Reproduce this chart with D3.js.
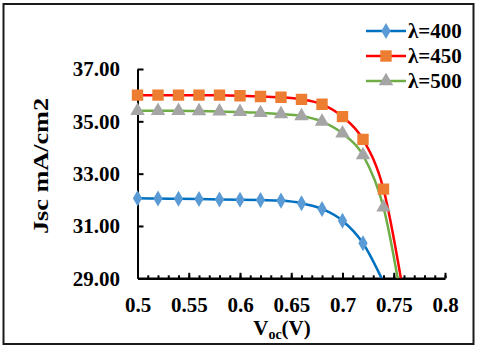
<!DOCTYPE html>
<html>
<head>
<meta charset="utf-8">
<script src="https://cdn.jsdelivr.net/npm/d3@7"></script>
<style>
  body { margin: 0; background: #fff; }
</style>
</head>
<body>
<div id="chart"></div>
<script>
const WIDTH = 480;
const HEIGHT = 350;
const FONT = '"Liberation Serif"';

// voltages of the measured points (the last one of each series falls below the axis)
const voc = [0.5, 0.52, 0.54, 0.56, 0.58, 0.6, 0.62, 0.64, 0.66, 0.68, 0.7, 0.72, 0.74, 0.76];
const series = ["λ=400", "λ=450", "λ=500"];
const jsc400 = [32.06, 32.05, 32.04, 32.03, 32.01, 32.0, 31.99, 31.97, 31.87, 31.65, 31.2, 30.34, 28.85];
const jsc450 = [36.0, 36.0, 36.0, 36.0, 36.0, 35.98, 35.95, 35.92, 35.84, 35.65, 35.18, 34.31, 32.41, 28.3];
const jsc500 = [35.4, 35.4, 35.4, 35.39, 35.38, 35.36, 35.32, 35.28, 35.2, 34.99, 34.54, 33.71, 31.71, 27.6];
const xTicks = [0.5, 0.55, 0.6, 0.65, 0.7, 0.75, 0.8];
const yTicks = [29, 31, 33, 35, 37];

const lineColors = ["#0070c0", "#ff0000", "#70ad47"];
const markerColors = ["#5b9bd5", "#ed7d31", "#a5a5a5"];
const markerShapes = [d3.symbolDiamond, d3.symbolSquare, d3.symbolTriangle];
const markerSizes = [75, 130, 90];

const PLOT = {left: 137.5, right: 445, top: 69, bottom: 278.3};

const svg = d3.select('#chart')
  .append('svg')
  .attr('width', WIDTH)
  .attr('height', HEIGHT);

// outer frame
svg.append('rect')
  .attr('x', 3.5).attr('y', 4)
  .attr('width', 470).attr('height', 340)
  .attr('fill', 'none')
  .attr('stroke', '#1a1a1a')
  .attr('stroke-width', 2);

const x = d3.scaleLinear().domain([0.5, 0.8]).range([PLOT.left, PLOT.right]);
const y = d3.scaleLinear().domain([29, 37]).range([PLOT.bottom, PLOT.top]);

// minor x ticks (inside)
svg.append('g')
  .attr('transform', `translate(0,${PLOT.bottom})`)
  .call(d3.axisBottom(x).ticks(30).tickSize(-3).tickSizeOuter(0).tickFormat(''))
  .call(g => g.select('.domain').remove())
  .call(g => g.selectAll('line').attr('stroke', '#000').attr('stroke-width', 2));

// major x axis
const xAxis = svg.append('g')
  .attr('transform', `translate(0,${PLOT.bottom})`)
  .call(d3.axisBottom(x).tickValues(xTicks).tickSize(-5.5).tickSizeOuter(0)
    .tickPadding(18.5).tickFormat(d => String(d)));
xAxis.attr('font-family', FONT).attr('font-size', 21).attr('font-weight', 'bold');
xAxis.select('.domain').attr('stroke', '#000').attr('stroke-width', 2.5);
xAxis.selectAll('line').attr('stroke', '#000').attr('stroke-width', 2);
xAxis.selectAll('text')
  .style('font-family', FONT).style('font-weight', 'bold').style('font-size', '21px')
  .attr('fill', '#000');

// y axis
const yAxis = svg.append('g')
  .attr('transform', `translate(${PLOT.left},0)`)
  .call(d3.axisLeft(y).tickValues(yTicks).tickSize(-6).tickSizeOuter(0)
    .tickPadding(17.5).tickFormat(d3.format('.2f')));
yAxis.attr('font-family', FONT).attr('font-size', 21).attr('font-weight', 'bold');
yAxis.select('.domain').attr('stroke', '#000').attr('stroke-width', 2);
yAxis.selectAll('line').attr('stroke', '#000').attr('stroke-width', 2)
  .filter(d => d === 29).remove();
yAxis.selectAll('text')
  .style('font-family', FONT).style('font-weight', 'bold').style('font-size', '21px')
  .attr('fill', '#000');

// clip to plot area
svg.append('clipPath').attr('id', 'plotClip')
  .append('rect')
  .attr('x', PLOT.left - 8).attr('y', PLOT.top - 10)
  .attr('width', PLOT.right - PLOT.left + 8).attr('height', PLOT.bottom - PLOT.top + 10);

const plot = svg.append('g').attr('clip-path', 'url(#plotClip)');

const allSeries = [jsc400, jsc450, jsc500];

const line = d3.line()
  .x((d, i) => x(voc[i]))
  .y(d => y(d))
  .curve(d3.curveCardinal.tension(0));

allSeries.forEach((vals, s) => {
  plot.append('path')
    .datum(vals)
    .attr('d', line)
    .attr('fill', 'none')
    .attr('stroke', lineColors[s])
    .attr('stroke-width', 2.5);
});

allSeries.forEach((vals, s) => {
  plot.selectAll('.m' + s)
    .data(vals.filter(v => v >= 29))
    .enter()
    .append('path')
    .attr('class', 'm' + s)
    .attr('transform', (d, i) => `translate(${x(voc[i])},${y(d)})`)
    .attr('d', d3.symbol().type(markerShapes[s]).size(markerSizes[s]))
    .attr('fill', markerColors[s]);
});

// legend
const legend = svg.append('g');
series.forEach((name, s) => {
  const ly = 31 + s * 25;
  legend.append('line')
    .attr('x1', 366).attr('x2', 406)
    .attr('y1', ly).attr('y2', ly)
    .attr('stroke', lineColors[s])
    .attr('stroke-width', 2.5);
  legend.append('path')
    .attr('transform', `translate(386,${ly})`)
    .attr('d', d3.symbol().type(markerShapes[s]).size(markerSizes[s]))
    .attr('fill', markerColors[s]);
  legend.append('text')
    .attr('x', 408).attr('y', ly)
    .attr('dominant-baseline', 'central')
    .style('font-family', FONT).style('font-weight', 'bold').style('font-size', '21px')
    .text(name);
});

// axis titles
svg.append('text')
  .attr('transform', 'translate(40,166) rotate(-90)')
  .attr('text-anchor', 'middle')
  .attr('dominant-baseline', 'central')
  .style('font-family', FONT).style('font-weight', 'bold').style('font-size', '22px')
  .attr('textLength', 136)
  .attr('lengthAdjust', 'spacingAndGlyphs')
  .text('Jsc mA/cm2');

const xTitle = svg.append('text')
  .attr('x', 282).attr('y', 335)
  .attr('text-anchor', 'middle')
  .style('font-family', FONT).style('font-weight', 'bold').style('font-size', '21px');
xTitle.append('tspan').text('V');
xTitle.append('tspan').attr('dy', 4).style('font-size', '14px').text('oc');
xTitle.append('tspan').attr('dy', -4).text('(V)');
</script>
</body>
</html>
